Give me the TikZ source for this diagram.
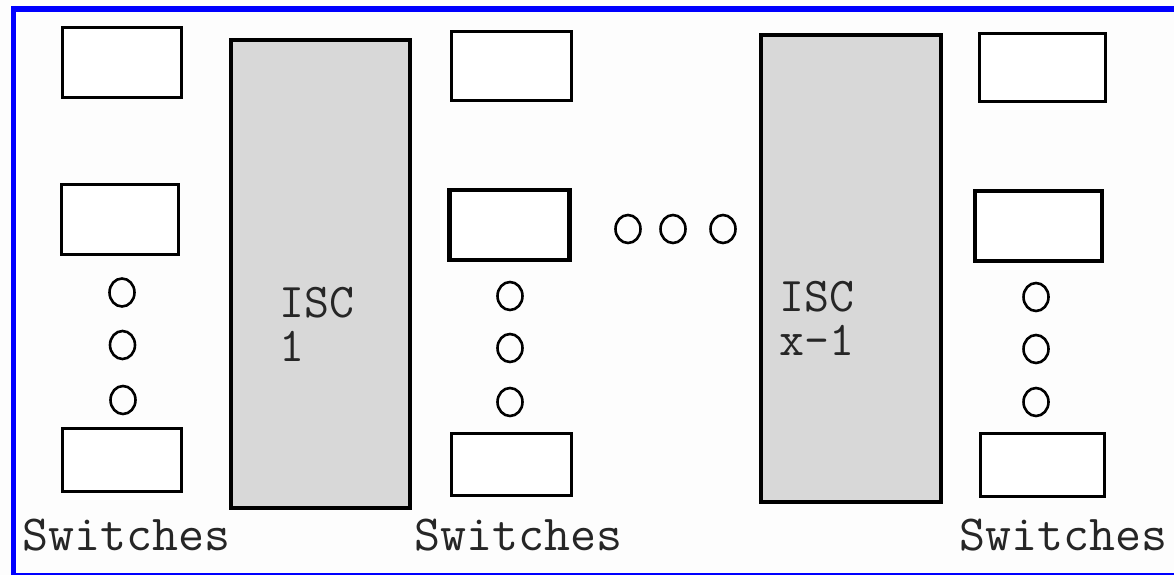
\documentclass[tikz,border=0pt]{standalone}
\usetikzlibrary{shapes.geometric}
\definecolor{iscgray}{HTML}{D8D8D8}
\definecolor{bord}{HTML}{0000FF}
\definecolor{bg}{HTML}{FDFDFD}
\begin{document}
\begin{tikzpicture}[x=1pt,y=-1pt,
  swbox/.style={draw=black,line width=3pt,fill=white,inner sep=0pt},
  iscbox/.style={draw=black,line width=3.5pt,fill=iscgray,inner sep=0pt},
  dot/.style={draw=black,line width=2.6pt,ellipse,inner sep=0pt,minimum width=25pt,minimum height=28pt},
  lbl/.style={font=\fontsize{50.5}{44}\selectfont\ttfamily,text=black!85,inner sep=0pt,anchor=base west},
  isclbl/.style={font=\fontsize{48.5}{44}\selectfont\ttfamily,text=black!85,inner sep=0pt,anchor=base west,align=left}]
\fill[bg] (0,0) rectangle (1174,575);
\useasboundingbox (0,0) rectangle (1174,575);
\draw[bord,line width=6pt] (11,9) -- (1174,9);
\draw[bord,line width=5.5pt] (13.5,6) -- (13.5,575);
\draw[bord,line width=2pt] (11,573.5) -- (1174,573.5);
% left column
\node[swbox,minimum width=119pt,minimum height=70pt] (L1) at (122,62.5) {};
\node[swbox,minimum width=117pt,minimum height=70pt] (L2) at (120,219.5) {};
\node[swbox,minimum width=119pt,minimum height=63pt] (L3) at (122,460) {};
\node[dot] (Lc1) at (122,292.5) {};
\node[dot] (Lc2) at (122.5,345) {};
\node[dot] (Lc3) at (123,400) {};
\node[lbl] (Ls) at (22,550) {Switches};
% ISC 1
\node[iscbox,minimum width=179pt,minimum height=468pt] (I1) at (320.5,274) {};
\node[isclbl] (I1t) at (279,361) {ISC\\1};
% middle column
\node[swbox,minimum width=120pt,minimum height=69pt] (M1) at (511.5,66) {};
\node[swbox,line width=4.5pt,minimum width=120pt,minimum height=70pt] (M2) at (509.5,225) {};
\node[swbox,minimum width=120pt,minimum height=62pt] (M3) at (511.5,464.5) {};
\node[dot] (Mc1) at (510,296) {};
\node[dot] (Mc2) at (510,348) {};
\node[dot] (Mc3) at (510,402) {};
\node[lbl] (Ms) at (414,550) {Switches};
% horizontal dots
\node[dot] (H1) at (628,229) {};
\node[dot] (H2) at (673,229) {};
\node[dot] (H3) at (723,229) {};
% ISC x-1
\node[iscbox,minimum width=180pt,minimum height=467pt] (I2) at (851,268.5) {};
\node[isclbl] (I2t) at (779,355) {ISC\\x-1};
% right column
\node[swbox,minimum width=126pt,minimum height=68pt] (R1) at (1042.5,67.5) {};
\node[swbox,line width=4pt,minimum width=127pt,minimum height=70pt] (R2) at (1038,225.5) {};
\node[swbox,minimum width=124pt,minimum height=63pt] (R3) at (1042.5,465) {};
\node[dot] (Rc1) at (1036,297) {};
\node[dot] (Rc2) at (1036,349) {};
\node[dot] (Rc3) at (1036,402) {};
\node[lbl] (Rs) at (959,550) {Switches};
\end{tikzpicture}
\end{document}
